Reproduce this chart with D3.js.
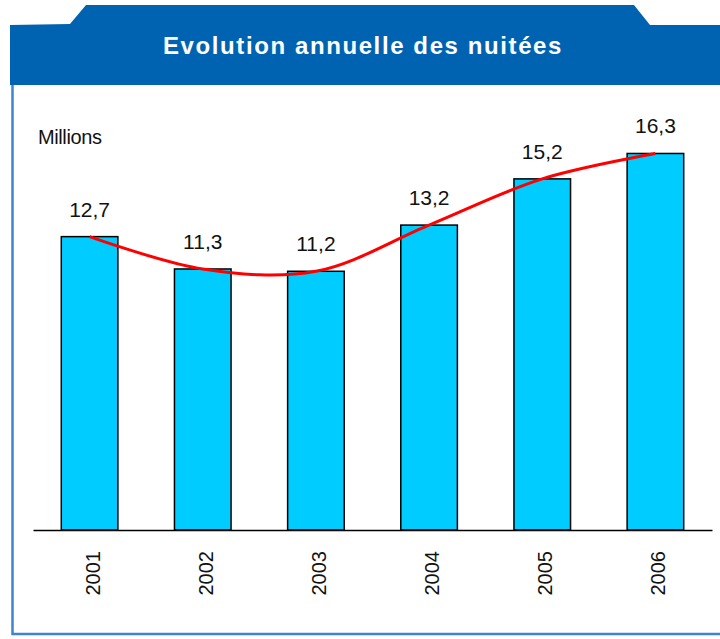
<!DOCTYPE html>
<html>
<head>
<meta charset="utf-8">
<script src="https://cdn.jsdelivr.net/npm/d3@7"></script>
<style>
  body { margin: 0; background: #fff; }
  svg { display: block; font-family: "Liberation Sans", Arial, sans-serif; }
</style>
</head>
<body>
<div id="wrapper"></div>
<script>
// data
const years = ["2001", "2002", "2003", "2004", "2005", "2006"];
const nuitees = [12.7, 11.3, 11.2, 13.2, 15.2, 16.3];
const valueLabels = ["12,7", "11,3", "11,2", "13,2", "15,2", "16,3"];

const dimensions = {
	width: 720,
	height: 639,
	margin: { top: 137, right: 8, bottom: 109, left: 33 }
};
dimensions.boundedWidth = dimensions.width - dimensions.margin.left - dimensions.margin.right;
dimensions.boundedHeight = dimensions.height - dimensions.margin.top - dimensions.margin.bottom;

const wrapper = d3.select("#wrapper")
	.append("svg")
	.attr("width", dimensions.width)
	.attr("height", dimensions.height);

// frame: panel border + title banner
wrapper.append("path")
	.attr("d", "M12.5,85 V634 H720")
	.attr("fill", "none")
	.attr("stroke", "#3f84cf")
	.attr("stroke-width", 2.5);

wrapper.append("path")
	.attr("d", "M10,25 L70,24 L86,5 L634,5 L650,25 L720,25 L720,85 L10,85 Z")
	.attr("fill", "#0063b1");

wrapper.append("text")
	.attr("x", 363)
	.attr("y", 54)
	.attr("text-anchor", "middle")
	.attr("fill", "#fff")
	.attr("font-weight", "bold")
	.attr("font-size", 24)
	.attr("letter-spacing", 1.6)
	.text("Evolution annuelle des nuitées");

wrapper.append("text")
	.attr("x", 38)
	.attr("y", 144)
	.attr("font-size", 20)
	.attr("letter-spacing", -0.4)
	.attr("fill", "#111")
	.text("Millions");

// scales
const xScale = d3.scaleBand()
	.domain(years)
	.range([dimensions.margin.left, dimensions.width - dimensions.margin.right])
	.paddingInner(0.5)
	.paddingOuter(0.25);

const yScale = d3.scaleLinear()
	.domain([0, 17])
	.range([530, 530 - 17 * 23.1]);

// bars
wrapper.append("g")
	.selectAll("rect")
	.data(nuitees)
	.join("rect")
	.attr("x", (d, i) => xScale(years[i]))
	.attr("y", d => yScale(d))
	.attr("width", xScale.bandwidth())
	.attr("height", d => yScale(0) - yScale(d))
	.attr("fill", "#00ccff")
	.attr("stroke", "#000")
	.attr("stroke-width", 1.5);

// smoothed trend line
const line = d3.line()
	.x((d, i) => xScale(years[i]) + xScale.bandwidth() / 2)
	.y(d => yScale(d))
	.curve(d3.curveCatmullRom);

wrapper.append("path")
	.datum(nuitees)
	.attr("d", line)
	.attr("fill", "none")
	.attr("stroke", "#ff0000")
	.attr("stroke-width", 3);

// value labels
wrapper.append("g")
	.selectAll("text")
	.data(valueLabels)
	.join("text")
	.attr("x", (d, i) => xScale(years[i]) + xScale.bandwidth() / 2)
	.attr("y", (d, i) => yScale(nuitees[i]) - 20)
	.attr("text-anchor", "middle")
	.attr("font-size", 21)
	.attr("fill", "#111")
	.text(d => d);

// x axis
const xAxisGen = d3.axisBottom(xScale).tickSize(0).tickSizeOuter(0);
const axisX = wrapper.append("g")
	.attr("transform", `translate(0,${yScale(0)})`)
	.call(xAxisGen);

axisX.select(".domain").attr("stroke", "#000").attr("stroke-width", 1.5);
axisX.selectAll("text")
	.attr("font-family", "Liberation Sans, Arial, sans-serif")
	.attr("font-size", 20)
	.attr("fill", "#111")
	.attr("text-anchor", "end")
	.attr("dy", "0.35em")
	.attr("transform", "translate(0,21) rotate(-90)");
</script>
</body>
</html>
